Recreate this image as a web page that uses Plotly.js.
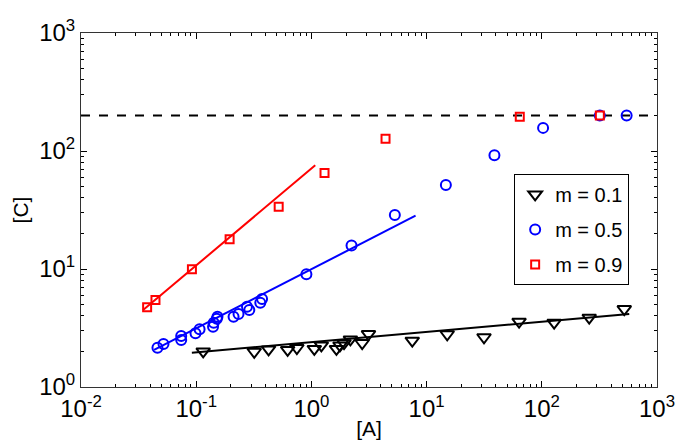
<!DOCTYPE html>
<html>
<head>
<meta charset="utf-8">
<script src="https://cdn.plot.ly/plotly-3.0.1.min.js"></script>
<style>
  html, body { margin: 0; padding: 0; background: #fff; }
  #chart { width: 690px; height: 443px; }
</style>
</head>
<body>
<div id="chart"></div>
<script>
// values
const blackX = [0.115, 0.319, 0.425, 0.622, 0.748, 1.06, 1.22, 1.65, 1.77, 1.92, 2.18, 2.76, 3.13, 7.51, 15.1, 31.5, 63.5, 128, 258, 520];
const blackY = [2.00, 1.99, 2.08, 2.06, 2.14, 2.10, 2.25, 2.10, 2.25, 2.35, 2.53, 2.36, 2.81, 2.47, 2.80, 2.64, 3.58, 3.51, 3.87, 4.58];

const blueX = [0.0461, 0.052, 0.0741, 0.0741, 0.0986, 0.107, 0.140, 0.142, 0.151, 0.153, 0.211, 0.233, 0.276, 0.289, 0.360, 0.373, 0.905, 2.23, 5.30, 14.7, 38.8, 102.6, 319, 545];
const blueY = [2.15, 2.31, 2.71, 2.50, 2.85, 3.08, 3.24, 3.51, 3.79, 3.94, 3.94, 4.16, 4.79, 4.49, 5.18, 5.57, 9.02, 15.8, 28.7, 51.5, 92, 157, 200, 200];

const redX = [0.0375, 0.0443, 0.0918, 0.195, 0.52, 1.30, 4.40, 64.4, 319];
const redY = [4.73, 5.46, 9.94, 17.9, 33.7, 65.1, 127, 195, 200];

// fitted power-law lines (end points)
const fitBlackX = [0.0917, 574];
const fitBlackY = [1.95, 4.16];
const fitBlueX = [0.0431, 8.02];
const fitBlueY = [2.06, 28.3];
const fitRedX = [0.0346, 1.08];
const fitRedY = [4.49, 75.6];

// saturation level
const limitX = [0.01, 1000];
const limitY = [200, 200];

const tickVals = [0.01, 0.1, 1, 10, 100, 1000];
const tickTextX = ['10<sup>-2</sup>', '10<sup>-1</sup>', '10<sup>0</sup>', '10<sup>1</sup>', '10<sup>2</sup>', '10<sup>3</sup>'];
const tickValsY = [1, 10, 100, 1000];
const tickTextY = ['10<sup>0</sup>', '10<sup>1</sup>', '10<sup>2</sup>', '10<sup>3</sup>'];

const FONT = 'Liberation Sans, Arial, Helvetica, sans-serif';

const data = [
    {
        x: limitX, y: limitY, mode: 'lines', showlegend: false,
        line: { color: 'black', width: 2, dash: 'dash' }, hoverinfo: 'skip'
    },
    {
        x: fitBlackX, y: fitBlackY, mode: 'lines', showlegend: false,
        line: { color: 'black', width: 2 }
    },
    {
        x: fitBlueX, y: fitBlueY, mode: 'lines', showlegend: false,
        line: { color: 'blue', width: 2 }
    },
    {
        x: fitRedX, y: fitRedY, mode: 'lines', showlegend: false,
        line: { color: 'red', width: 2 }
    },
    {
        x: blackX, y: blackY, mode: 'markers', name: 'm = 0.1', legendgroup: 'a',
        marker: { symbol: 'triangle-down-open', size: 12, color: 'black', line: { width: 2 } }
    },
    {
        x: blueX, y: blueY, mode: 'markers', name: 'm = 0.5', legendgroup: 'b',
        marker: { symbol: 'circle-open', size: 10, color: 'blue', line: { width: 2 } }
    },
    {
        x: redX, y: redY, mode: 'markers', name: 'm = 0.9', legendgroup: 'c',
        marker: { symbol: 'square-open', size: 8, color: 'red', line: { width: 2 } }
    }
];

const axisCommon = {
    type: 'log',
    showgrid: false,
    zeroline: false,
    showline: true,
    linecolor: '#333',
    linewidth: 1,
    mirror: 'ticks',
    ticks: 'inside',
    ticklen: 6,
    tickcolor: 'black',
    tickfont: { family: FONT, size: 24, color: 'black' },
    minor: { ticks: 'inside', ticklen: 3, tickcolor: 'black', showgrid: false, dtick: 'D1' }
};

const layout = {
    width: 690,
    height: 443,
    margin: { l: 81, r: 33, t: 33, b: 56 },
    paper_bgcolor: 'white',
    plot_bgcolor: 'white',
    font: { family: FONT, color: 'black' },
    showlegend: true,
    xaxis: Object.assign({}, axisCommon, {
        range: [-2, 3],
        tickvals: tickVals,
        ticktext: tickTextX,
        title: { text: '[A]', font: { family: FONT, size: 21 }, standoff: 0 }
    }),
    yaxis: Object.assign({}, axisCommon, {
        range: [0, 3],
        tickvals: tickValsY,
        ticktext: tickTextY,
        title: { text: '[C]', font: { family: FONT, size: 21 }, standoff: 4 }
    }),
    legend: {
        x: 0.752, y: 0.602, xanchor: 'left', yanchor: 'top',
        bordercolor: 'black', borderwidth: 1, bgcolor: 'white',
        font: { family: FONT, size: 20 },
        traceorder: 'grouped',
        tracegroupgap: 6
    }
};

Plotly.newPlot('chart', data, layout, { displayModeBar: false, staticPlot: true });
</script>
</body>
</html>
